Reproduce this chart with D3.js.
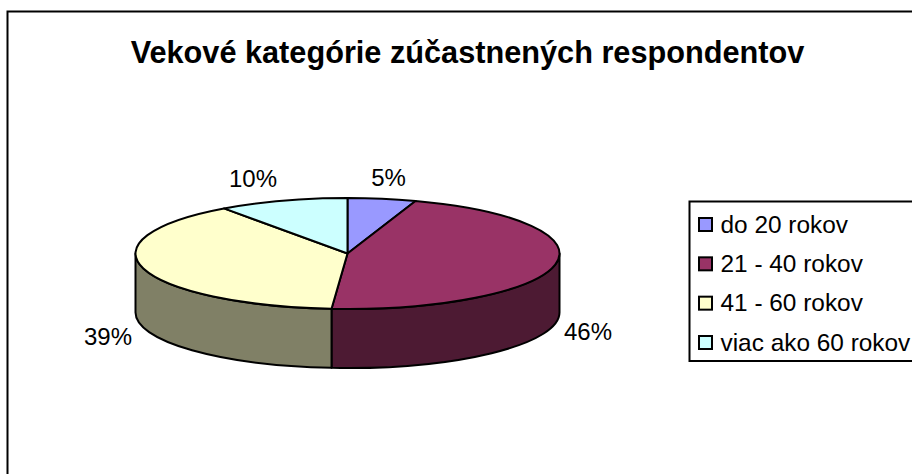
<!DOCTYPE html>
<html><head><meta charset="utf-8">
<script src="https://cdnjs.cloudflare.com/ajax/libs/d3/7.8.5/d3.min.js"></script>
<style>html,body{margin:0;padding:0;background:#fff;overflow:hidden}svg{display:block}text{font-family:"Liberation Sans",Arial,sans-serif;fill:#000}</style>
</head><body><svg id="c" width="912" height="474"></svg>
<script>
const titleText = "Vekové kategórie zúčastnených respondentov";
const categories = ["do 20 rokov","21 - 40 rokov","41 - 60 rokov","viac ako 60 rokov"];
const values = [5.2,46,38.9,9.9];
const labels = ["5%","46%","39%","10%"];
const topColors = ["#9999FF","#993366","#FFFFCC","#CCFFFF"];
const sideColors = ["#4D4D80","#4D1A33","#808066","#668080"];
const labelAnchors = [[388.5,177.5],[588,331],[108,336],[253,178]];

const W=912,H=474,cx=347.5,cy=253.5,rx=212,ry=55.5,depth=59;
const svg=d3.select("#c");
svg.append("path").attr("d",`M7.5 ${H+5}V11.5H${W+5}`).attr("fill","none").attr("stroke","#000").attr("stroke-width",2);
svg.append("text").attr("x",467.5).attr("y",63).attr("text-anchor","middle").attr("font-weight","bold").attr("font-size",30.7).text(titleText);

const arcs=d3.pie().sort(null).value(d=>d)(values);
const px=a=>cx+rx*Math.sin(a), py=a=>cy-ry*Math.cos(a);
const g=svg.append("g").attr("stroke","#000").attr("stroke-width",2).attr("stroke-linejoin","round");

// side walls: front half only (angles from 90deg to 270deg)
arcs.forEach((d,i)=>{
  const a0=Math.max(d.startAngle,Math.PI/2),a1=Math.min(d.endAngle,3*Math.PI/2);
  if(a1<=a0)return;
  const large=a1-a0>Math.PI?1:0;
  g.append("path").attr("fill",sideColors[i]).attr("d",
    `M${px(a0)} ${py(a0)}A${rx} ${ry} 0 ${large} 1 ${px(a1)} ${py(a1)}`+
    `L${px(a1)} ${py(a1)+depth}A${rx} ${ry} 0 ${large} 0 ${px(a0)} ${py(a0)+depth}Z`);
});
// top faces
arcs.forEach((d,i)=>{
  const large=d.endAngle-d.startAngle>Math.PI?1:0;
  g.append("path").attr("fill",topColors[i]).attr("d",
    `M${cx} ${cy}L${px(d.startAngle)} ${py(d.startAngle)}A${rx} ${ry} 0 ${large} 1 ${px(d.endAngle)} ${py(d.endAngle)}Z`);
});
svg.selectAll(".pl").data(labels).join("text").attr("class","pl")
  .attr("x",(d,i)=>labelAnchors[i][0]).attr("y",(d,i)=>labelAnchors[i][1]+8.5)
  .attr("text-anchor","middle").attr("font-size",24).text(d=>d);

// legend
svg.append("rect").attr("x",689.5).attr("y",201.5).attr("width",W).attr("height",159.5).attr("fill","#fff").attr("stroke","#000").attr("stroke-width",2);
const ly=d3.scalePoint().domain(categories).range([224,342]);
const leg=svg.selectAll(".lg").data(categories).join("g").attr("class","lg").attr("transform",d=>`translate(0,${ly(d)})`);
leg.append("rect").attr("x",699).attr("y",-6).attr("width",13).attr("height",13).attr("fill",(d,i)=>topColors[i]).attr("stroke","#000").attr("stroke-width",2);
leg.append("text").attr("x",720.5).attr("y",8.5).attr("font-size",24.4).text(d=>d);
</script></body></html>
